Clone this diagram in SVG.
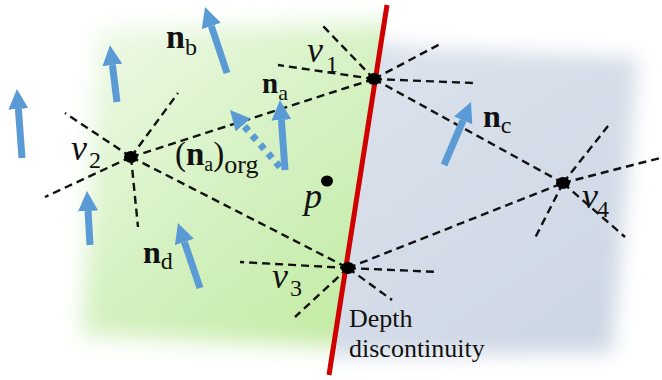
<svg xmlns="http://www.w3.org/2000/svg" width="662" height="380" viewBox="0 0 662 380">
<style>
.dash{stroke:#111;stroke-width:2.4;stroke-dasharray:8 5;fill:none}
.arr{stroke:#5b9bd5;stroke-width:7;fill:none;marker-end:url(#ah)}
.dot{fill:#000}
text{font-family:'Liberation Serif','Times New Roman',Tinos,'DejaVu Serif','Noto Serif',serif;fill:#111}
.it{font-style:italic}
.bd{font-weight:bold}
</style>
<defs>
<filter id="blurG" x="-20%" y="-20%" width="140%" height="140%"><feGaussianBlur stdDeviation="11"/></filter>
<filter id="blurB" x="-20%" y="-20%" width="140%" height="140%"><feGaussianBlur stdDeviation="10"/></filter>
<linearGradient id="gG" gradientUnits="userSpaceOnUse" x1="90" y1="30" x2="350" y2="340">
<stop offset="0" stop-color="#eef9e6"/><stop offset="0.5" stop-color="#d6f2c4"/><stop offset="1" stop-color="#c2eaa2"/>
</linearGradient>
<linearGradient id="gB" gradientUnits="userSpaceOnUse" x1="400" y1="50" x2="600" y2="340">
<stop offset="0" stop-color="#dbe2ec"/><stop offset="1" stop-color="#cdd6e4"/>
</linearGradient>
<clipPath id="cL"><polygon points="0,0 387.8,0 328.2,380 0,380"/></clipPath>
<clipPath id="cR"><polygon points="387.8,0 662,0 662,380 328.2,380"/></clipPath>
<marker id="ah" markerUnits="userSpaceOnUse" markerWidth="20" markerHeight="20" viewBox="0 0 20 20" refX="0" refY="10" orient="auto">
<path d="M0,0 L20,10 L0,20 z" fill="#5b9bd5"/>
</marker>
</defs>

<g id="background">
<g clip-path="url(#cL)"><polygon points="98,30 420,22 420,350 82,335" fill="url(#gG)" filter="url(#blurG)"/></g>
<g clip-path="url(#cR)"><polygon points="320,35 430,48 638,58 612,352 320,356" fill="url(#gB)" filter="url(#blurB)"/></g>
</g>

<g id="connectors">
<line class="dash" x1="131" y1="157" x2="374" y2="79"/>
<line class="dash" x1="374" y1="79" x2="563" y2="183"/>
<line class="dash" x1="131" y1="157" x2="348" y2="268"/>
<line class="dash" x1="348" y1="268" x2="563" y2="183"/>
<line class="dash" x1="374" y1="79" x2="322" y2="25"/>
<line class="dash" x1="374" y1="79" x2="278" y2="65"/>
<line class="dash" x1="374" y1="79" x2="442" y2="43"/>
<line class="dash" x1="374" y1="79" x2="473" y2="83"/>
<line class="dash" x1="131" y1="157" x2="65" y2="113"/>
<line class="dash" x1="131" y1="157" x2="178" y2="93"/>
<line class="dash" x1="131" y1="157" x2="45" y2="197"/>
<line class="dash" x1="131" y1="157" x2="138" y2="227"/>
<line class="dash" x1="348" y1="268" x2="240" y2="262"/>
<line class="dash" x1="348" y1="268" x2="295" y2="317"/>
<line class="dash" x1="348" y1="268" x2="438" y2="272"/>
<line class="dash" x1="348" y1="268" x2="392" y2="300"/>
<line class="dash" x1="563" y1="183" x2="608" y2="126"/>
<line class="dash" x1="563" y1="183" x2="660" y2="158"/>
<line class="dash" x1="563" y1="183" x2="535" y2="238"/>
<line class="dash" x1="563" y1="183" x2="625" y2="237"/>
</g>

<g id="discontinuity">
<line x1="387" y1="5" x2="329" y2="375" stroke="#d00000" stroke-width="5"/>
<text x="349" y="327" font-size="26">Depth</text>
<text x="349" y="357" font-size="26">discontinuity</text>
</g>

<g id="normals">
<line class="arr" x1="22" y1="158" x2="18.4" y2="109"/>
<line class="arr" x1="117" y1="102" x2="112.4" y2="65"/>
<line class="arr" x1="227" y1="73" x2="211.3" y2="26"/>
<line class="arr" x1="285" y1="170" x2="281.4" y2="120"/>
<line class="arr" x1="280" y1="167" x2="243.2" y2="125" stroke-dasharray="6 6"/>
<line class="arr" x1="444" y1="165" x2="463.1" y2="120.4"/>
<line class="arr" x1="90" y1="245" x2="88.1" y2="211"/>
<line class="arr" x1="200" y1="288" x2="184.4" y2="242"/>
</g>

<g id="v1"><ellipse class="dot" cx="374" cy="79" rx="7" ry="6"/>
<text class="it" x="307" y="62" font-size="36">v</text><text x="326" y="72" font-size="24">1</text></g>
<g id="v2"><ellipse class="dot" cx="131" cy="157" rx="7" ry="6"/>
<text class="it" x="71" y="160" font-size="36">v</text><text x="89" y="168" font-size="24">2</text></g>
<g id="v3"><ellipse class="dot" cx="348" cy="268" rx="7" ry="6"/>
<text class="it" x="272" y="288" font-size="36">v</text><text x="290" y="296" font-size="24">3</text></g>
<g id="v4"><ellipse class="dot" cx="563" cy="183" rx="7" ry="6"/>
<text class="it" x="582" y="208" font-size="36">v</text><text x="597" y="217" font-size="24">4</text></g>
<g id="p"><ellipse class="dot" cx="327" cy="181" rx="6" ry="5.5"/>
<text class="it" x="304" y="208" font-size="36">p</text></g>

<g id="labels">
<text x="166" y="48" font-size="34"><tspan class="bd">n</tspan><tspan font-size="24" dy="7">b</tspan></text>
<text x="262" y="93" font-size="29"><tspan class="bd">n</tspan><tspan font-size="22" dy="7">a</tspan></text>
<text x="483" y="127" font-size="32"><tspan class="bd">n</tspan><tspan font-size="24" dy="6">c</tspan></text>
<text x="143" y="263" font-size="32"><tspan class="bd">n</tspan><tspan font-size="24" dy="6">d</tspan></text>
<text x="175" y="165" font-size="33">(<tspan class="bd">n</tspan><tspan font-size="20" dy="6">a</tspan><tspan dy="-6">)</tspan><tspan font-size="26" dy="8">org</tspan></text>
</g>
</svg>
